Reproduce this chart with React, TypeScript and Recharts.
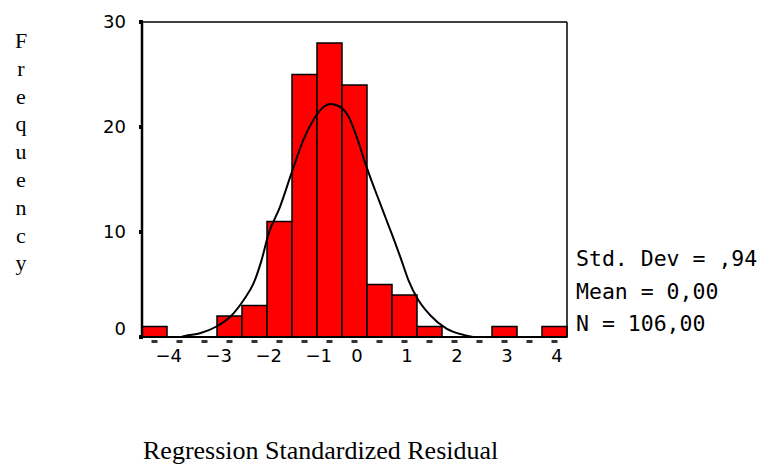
import React from "react";
import { ComposedChart, Bar, Line, XAxis, YAxis, ReferenceLine } from "recharts";

const binCenters = [-4, -3.5, -3, -2.5, -2, -1.5, -1, -0.5, 0, 0.5, 1, 1.5, 2, 2.5, 3, 3.5, 4];
const frequencies = [1, 0, 0, 2, 3, 11, 25, 28, 24, 5, 4, 1, 0, 0, 1, 0, 1];
const xTickLabels = ["\u22124", "", "\u22123", "", "\u22122", "", "\u22121", "", "0", "", "1", "", "2", "", "3", "", "4"];
const yTicks = [0, 10, 20, 30];

const curveX = [-3.45, -3.39, -3.09, -2.76, -2.49, -2.22, -2.02, -1.86, -1.72, -1.49, -1.26, -1.02, -0.82, -0.62, -0.49, -0.32, -0.12, 0.04, 0.24, 0.41, 0.61, 0.74, 0.94, 1.08, 1.28, 1.51, 1.84, 2.18, 2.41, 2.7];
const curveY = [0.02, 0.1, 0.35, 1.0, 1.9, 3.5, 5.1, 7.3, 9.8, 12.4, 15.6, 18.8, 20.7, 21.9, 22.2, 22.0, 21.0, 19.1, 16.2, 14.0, 11.5, 9.9, 7.3, 5.4, 3.5, 2.1, 0.8, 0.2, 0.0, 0.0];

const statLines = ["Std. Dev = ,94", "Mean = 0,00", "N = 106,00"];
const yTitle = "Frequency";
const xTitle = "Regression Standardized Residual";

const barData = binCenters.map((b, i) => ({ bin: b, freq: frequencies[i], label: xTickLabels[i] }));
const curveData = curveX.map((x, i) => ({ x, y: curveY[i] }));

const XTick = (props: any) => {
  const { x, y, index } = props;
  const label = xTickLabels[index] ?? "";
  const neg = label.startsWith("\u2212");
  return (
    <g>
      <rect x={x - 3} y={y + 3} width={6} height={3} fill="#333" />
      {label !== "" && (
        <text
          x={neg ? x + 1 : x + 2.5}
          y={y + 25}
          textAnchor={neg ? "start" : "middle"}
          fontFamily="DejaVu Sans"
          fontSize={18}
          fill="#000"
        >
          {label}
        </text>
      )}
    </g>
  );
};

const YTick = (props: any) => {
  const { x, y, payload } = props;
  const shift = payload.value === 0 ? -8 : 0;
  return (
    <g>
      <rect x={x - 3} y={y - 2} width={4} height={4} fill="#000" />
      <text
        x={x - 16}
        y={y + shift}
        dy="0.36em"
        textAnchor="end"
        fontFamily="DejaVu Sans"
        fontSize={18}
        fill="#000"
      >
        {payload.value}
      </text>
    </g>
  );
};

export default function App() {
  return (
    <div style={{ position: "absolute", left: 0, top: 0, width: 765, height: 465, background: "#fff" }}>
      <ComposedChart
        width={765}
        height={465}
        data={barData}
        margin={{ top: 22, right: 198, left: 0, bottom: 0 }}
        barCategoryGap={0}
      >
        <XAxis
          dataKey="bin"
          type="category"
          height={128}
          tickLine={false}
          tickSize={0}
          tickMargin={0}
          interval={0}
          tick={<XTick />}
          axisLine={{ stroke: "#000", strokeWidth: 2 }}
        />
        <XAxis xAxisId="curve" type="number" dataKey="x" domain={[-4.25, 4.25]} allowDataOverflow hide />
        <YAxis
          width={142}
          domain={[0, 30]}
          ticks={yTicks}
          tickLine={false}
          tickSize={0}
          tickMargin={0}
          tick={<YTick />}
          axisLine={{ stroke: "#000", strokeWidth: 2.5 }}
        />
        <ReferenceLine y={30} stroke="#000" strokeWidth={1.5} />
        <ReferenceLine xAxisId="curve" x={4.25} stroke="#000" strokeWidth={1.5} />
        <Bar dataKey="freq" fill="#ff0000" stroke="#000" strokeWidth={1.5} isAnimationActive={false} />
        <Line
          xAxisId="curve"
          data={curveData}
          dataKey="y"
          type="monotone"
          stroke="#000"
          strokeWidth={2}
          dot={false}
          activeDot={false}
          isAnimationActive={false}
        />
      </ComposedChart>
      <svg
        width={765}
        height={465}
        style={{ position: "absolute", left: 0, top: 0, pointerEvents: "none" }}
      >
        {yTitle.split("").map((ch, i) => (
          <text
            key={i}
            x={21}
            y={48 + i * 27.8}
            textAnchor="middle"
            fontFamily="Liberation Serif"
            fontSize={22}
            fill="#000"
          >
            {ch}
          </text>
        ))}
        {statLines.map((s, i) => (
          <text
            key={s}
            x={576}
            y={266 + i * 32.5}
            fontFamily="DejaVu Sans Mono"
            fontSize={21.5}
            fill="#000"
          >
            {s}
          </text>
        ))}
        <text x={143} y={459} fontFamily="Liberation Serif" fontSize={26} fill="#000">
          {xTitle}
        </text>
      </svg>
    </div>
  );
}
